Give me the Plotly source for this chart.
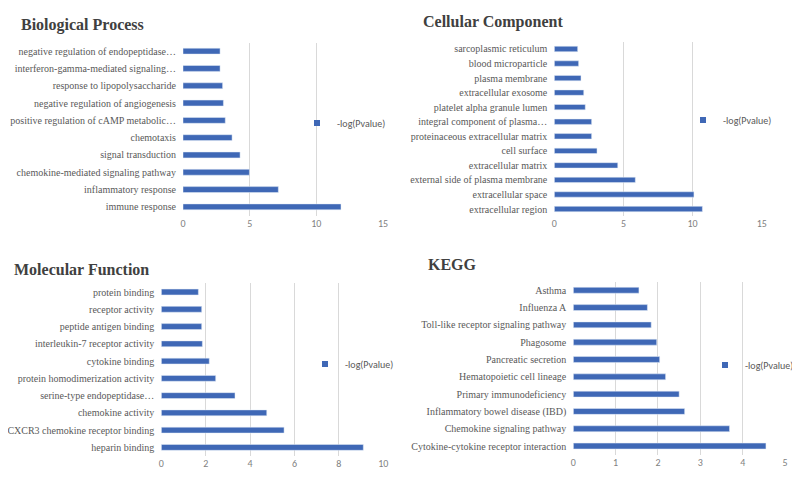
import plotly.graph_objects as go

# ---- data (bottom -> top) ----
bp_terms = ["immune response", "inflammatory response", "chemokine-mediated signaling pathway",
            "signal transduction", "chemotaxis", "positive regulation of cAMP metabolic…",
            "negative regulation of angiogenesis", "response to lipopolysaccharide",
            "interferon-gamma-mediated signaling…", "negative regulation of endopeptidase…"]
bp_values = [11.85, 7.15, 4.98, 4.28, 3.68, 3.17, 3.03, 2.97, 2.78, 2.78]

cc_terms = ["extracellular region", "extracellular space", "external side of plasma membrane",
            "extracellular matrix", "cell surface", "proteinaceous extracellular matrix",
            "integral component of plasma…", "platelet alpha granule lumen", "extracellular exosome",
            "plasma membrane", "blood microparticle", "sarcoplasmic reticulum"]
cc_values = [10.71, 10.1, 5.86, 4.59, 3.09, 2.7, 2.7, 2.24, 2.13, 1.93, 1.76, 1.69]

mf_terms = ["heparin binding", "CXCR3 chemokine receptor binding", "chemokine activity",
            "serine-type endopeptidase…", "protein homodimerization activity", "cytokine binding",
            "interleukin-7 receptor activity", "peptide antigen binding", "receptor activity",
            "protein binding"]
mf_values = [9.1, 5.53, 4.75, 3.32, 2.45, 2.16, 1.85, 1.82, 1.82, 1.67]

kegg_terms = ["Cytokine-cytokine receptor interaction", "Chemokine signaling pathway",
              "Inflammatory bowel disease (IBD)", "Primary immunodeficiency",
              "Hematopoietic cell lineage", "Pancreatic secretion", "Phagosome",
              "Toll-like receptor signaling pathway", "Influenza A", "Asthma"]
kegg_values = [4.55, 3.69, 2.63, 2.5, 2.18, 2.04, 1.97, 1.84, 1.75, 1.55]

titles = ["Biological Process", "Cellular Component", "Molecular Function", "KEGG"]
x_ranges = [[0, 15], [0, 15], [0, 10], [0, 5]]
x_dticks = [5, 5, 2, 1]
series_name = "-log(Pvalue)"

OFF = 8  # browser body margin
W, H = 800 - OFF, 480 - OFF
BLUE = "#3f68b6"
GRID = "#d9d9d9"
SERIF = "Liberation Serif, Times New Roman, serif"
SANS = "Carlito, Liberation Sans, Arial, sans-serif"


def fx(px):
    return (px - OFF) / W


def fy(py):
    return 1 - (py - OFF) / H


# panel pixel boxes (window coords): (x0, x1, ytop, ybottom)
boxes = [(183, 383, 42.5, 215.5), (554.3, 761.7, 41.7, 216.3),
         (161.3, 383.3, 283.4, 456), (573.3, 785, 281.6, 454.7)]
title_pos = [(19, 25), (421, 22), (12, 269), (426, 264)]
legend_pos = [(297, 123), (683, 120), (305, 364), (705, 365)]
bargaps = [0.66, 0.63, 0.66, 0.66]

data = [(bp_terms, bp_values), (cc_terms, cc_values), (mf_terms, mf_values), (kegg_terms, kegg_values)]

fig = go.Figure()
layout = dict(width=W, height=H, margin=dict(l=0, r=0, t=0, b=0, autoexpand=False),
              paper_bgcolor="white", plot_bgcolor="white", showlegend=True,
              annotations=[])

for i, (terms, vals) in enumerate(data):
    n = "" if i == 0 else str(i + 1)
    x0, x1, yt, yb = boxes[i]
    fig.add_trace(go.Bar(x=vals, y=terms, orientation="h", marker_color=BLUE,
                         width=1 - bargaps[i], showlegend=False,
                         xaxis="x" + n, yaxis="y" + n))
    fig.add_trace(go.Scatter(x=[None], y=[None], mode="markers", name=series_name,
                             marker=dict(symbol="square", size=6, color=BLUE),
                             xaxis="x" + n, yaxis="y" + n, legend="legend" + n))
    layout["xaxis" + n] = dict(domain=[fx(x0), fx(x1)], range=x_ranges[i], dtick=x_dticks[i],
                               showgrid=True, gridcolor=GRID, gridwidth=1, zeroline=False,
                               showline=False, anchor="y" + n, fixedrange=True, automargin=False,
                               tickfont=dict(family=SANS, size=10, color="#7f7f7f"))
    layout["yaxis" + n] = dict(domain=[fy(yb), fy(yt)], type="category",
                               categoryorder="array", categoryarray=terms,
                               showgrid=False, zeroline=False, showline=False, automargin=False,
                               anchor="x" + n, ticks="", ticklabelstandoff=6,
                               tickfont=dict(family=SERIF, size=10, color="#595959"))
    lx, ly = legend_pos[i]
    layout["legend" + n] = dict(x=fx(lx), y=fy(ly), xanchor="left", yanchor="middle",
                                bgcolor="rgba(0,0,0,0)", itemwidth=30,
                                font=dict(family=SANS, size=10, color="#595959"))
    tx, ty = title_pos[i]
    layout["annotations"].append(dict(text="<b>" + titles[i] + "</b>", x=fx(tx), y=fy(ty),
                                      xref="paper", yref="paper", xanchor="left", yanchor="middle",
                                      showarrow=False,
                                      font=dict(family=SERIF, size=16, color="#404040")))

fig.update_layout(**layout)
fig.write_html("out.html")
